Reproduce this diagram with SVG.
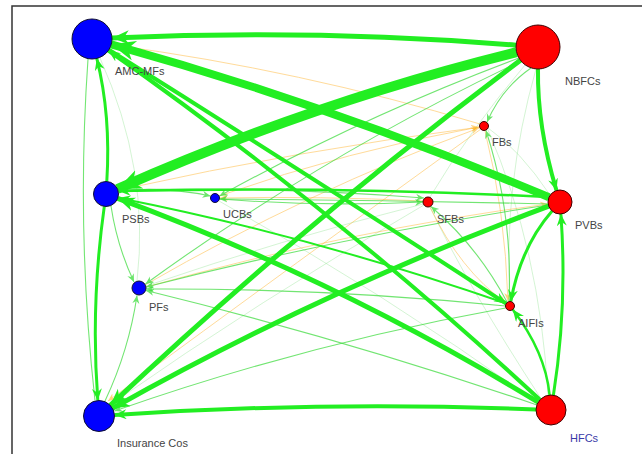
<svg xmlns="http://www.w3.org/2000/svg" width="642" height="454" viewBox="0 0 642 454">
<defs>
<marker id="axl" markerUnits="userSpaceOnUse" markerWidth="26" markerHeight="22" refX="24" refY="10" orient="auto"><path d="M0,0 L24,10 L0,20 L7,10 z" fill="#22ee22"/></marker>
<marker id="al" markerUnits="userSpaceOnUse" markerWidth="19" markerHeight="16" refX="17" refY="7" orient="auto"><path d="M0,0 L17,7 L0,14 L5,7 z" fill="#22ee22"/></marker>
<marker id="am" markerUnits="userSpaceOnUse" markerWidth="14" markerHeight="12" refX="12" refY="5" orient="auto"><path d="M0,0 L12,5 L0,10 L4,5 z" fill="#22ee22"/></marker>
<marker id="as" markerUnits="userSpaceOnUse" markerWidth="10" markerHeight="8" refX="8" refY="3.5" orient="auto"><path d="M0,0 L8,3.5 L0,7 L2.5,3.5 z" fill="#33dd33"/></marker>
<marker id="ao" markerUnits="userSpaceOnUse" markerWidth="10" markerHeight="8" refX="8" refY="3.5" orient="auto"><path d="M0,0 L8,3.5 L0,7 L2.5,3.5 z" fill="#ffaa00"/></marker>
</defs>
<style>
.e{fill:none;stroke:#22ee22}
.t{fill:none;stroke:#3ddc3d;stroke-width:1.1;opacity:.72}
.f{fill:none;stroke:#77dd77;stroke-width:.8;opacity:.4}
.o{fill:none;stroke:#ffb020;stroke-width:.9;opacity:.5}
.b{fill:#0000ff;stroke:#101030;stroke-width:1}
.r{fill:#ff0000;stroke:#400000;stroke-width:1}
.lbl{font-family:"Liberation Sans",Arial,sans-serif;font-size:11px;fill:#444}
</style>
<rect width="642" height="454" fill="#ffffff"/>
<path d="M12,454 L12,6 L642,6" fill="none" stroke="#333" stroke-width="1.5"/>
<g id="connectors">
<g id="faint">
<path class="f" d="M548,395 Q540,250 488,130"/>
<path class="f" d="M536,69 Q503,185 510,301"/>
<path class="f" d="M538,403 Q380,290 219,201"/>
<path class="f" d="M424,205 Q260,300 110,405"/>
<path class="f" d="M423,204 Q280,240 146,286"/>
<path class="f" d="M550,195 Q520,150 488,128"/>
<path class="f" d="M525,65 Q470,130 430,197"/>
<path class="f" d="M540,397 Q470,290 430,207"/>
<path class="f" d="M100,58 Q150,170 137,281"/>
</g>
<g id="orange">
<path class="o" d="M480,124 Q300,70 113,45" marker-end="url(#ao)"/>
<path class="o" d="M480,127 Q300,150 119,190" marker-end="url(#ao)"/>
<path class="o" d="M481,129 Q300,260 108,401" marker-end="url(#ao)"/>
<path class="o" d="M219,196 Q350,150 479,127" marker-end="url(#ao)"/>
<path class="o" d="M145,285 Q310,190 479,128" marker-end="url(#ao)"/>
<path class="o" d="M430,207 Q460,270 506,303" marker-end="url(#ao)"/>
<path class="o" d="M423,201 Q320,196 220,198" marker-end="url(#ao)"/>
<path class="o" d="M146,287 Q350,230 548,204" marker-end="url(#ao)"/>
<path class="o" d="M485,131 Q505,210 508,301" marker-end="url(#ao)"/>
</g>
<g id="thin">
<path class="t" d="M521,61 Q323,155 145.5,284" marker-end="url(#as)"/>
<path class="t" d="M548,205 Q345,236 146,287" marker-end="url(#as)"/>
<path class="t" d="M505.5,306 Q326,288 146,289" marker-end="url(#as)"/>
<path class="t" d="M537,405 Q344,339 146,290.5" marker-end="url(#as)"/>
<path class="t" d="M105,401 Q129,350 137,295.5" marker-end="url(#as)"/>
<path class="t" d="M111,206 Q117,246 134,282" marker-end="url(#as)"/>
<path class="t" d="M118.5,191 Q164,186 210.5,196" marker-end="url(#as)"/>
<path class="t" d="M220,199 Q321,207 423,202" marker-end="url(#as)"/>
<path class="t" d="M119,190 Q272,186 424,198" marker-end="url(#as)"/>
<path class="t" d="M507,302 Q478,247 431,206.5" marker-end="url(#as)"/>
<path class="t" d="M519,58 Q364,116 219.5,196" marker-end="url(#as)"/>
<path class="t" d="M531,68 Q502,88 487,122" marker-end="url(#as)"/>
<path class="t" d="M509,301.5 Q513,214 486,130.5" marker-end="url(#as)"/>
<path class="t" d="M505.5,308 Q306,344 114.5,411" marker-end="url(#as)"/>
<path class="t" d="M88,59 Q76,230 95,400.5"/>
<path class="t" d="M548,204 Q384,200 219.5,199" marker-end="url(#as)"/>
</g>
<g id="strong">
<path class="e" stroke-width="2" d="M505,303 Q307,235 118.5,198" marker-end="url(#am)"/>
<path class="e" stroke-width="2.5" d="M548,197 Q333,186 118.5,191" marker-end="url(#am)"/>
<path class="e" stroke-width="3" d="M106.8,181.5 Q111,115.4 96.8,58.4" marker-end="url(#am)"/>
<path class="e" stroke-width="3" d="M104.3,206.4 Q90.5,304.6 97.8,400.5" marker-end="url(#am)"/>
<path class="e" stroke-width="2.5" d="M549.6,395.1 Q545.4,352.1 512.7,309.6" marker-end="url(#am)"/>
<path class="e" stroke-width="3" d="M552.1,211 Q520.6,247.1 510.8,301.6" marker-end="url(#am)"/>
<path class="e" stroke-width="4" d="M538,69 Q537.1,126.2 556.5,190.5" marker-end="url(#am)"/>
<path class="e" stroke-width="3" d="M553.4,395.2 Q567.5,306.5 560.9,214" marker-end="url(#am)"/>
<path class="e" stroke-width="4" d="M536,409.4 Q324.8,401 114.5,415" marker-end="url(#am)"/>
<path class="e" stroke-width="5" d="M538.2,402.2 Q339,280.4 117.7,198.3" marker-end="url(#al)"/>
<path class="e" stroke-width="4" d="M108.9,49.8 Q309,175 506.2,303.6" marker-end="url(#am)"/>
<path class="e" stroke-width="4" d="M540,399.8 Q334.1,209 108.4,50.5" marker-end="url(#am)"/>
<path class="e" stroke-width="5" d="M548.8,206.2 Q321.1,290.9 112.5,408.4" marker-end="url(#al)"/>
<path class="e" stroke-width="5" d="M520.4,60.2 Q308.2,219.3 110.3,405.4" marker-end="url(#al)"/>
<path class="e" stroke-width="10" d="M516.6,52.2 Q315.6,101.6 117.4,189" marker-end="url(#axl)"/>
<path class="e" stroke-width="8" d="M549,197.3 Q331.3,105.4 111.3,44.3" marker-end="url(#axl)"/>
<path class="e" stroke-width="5" d="M516,45.2 Q315.3,29 112,38.1" marker-end="url(#al)"/>
</g>
</g>
<g id="AMC-MFs"><circle class="b" cx="92" cy="39" r="20"/><text class="lbl" x="115" y="75">AMC-MFs</text></g>
<g id="NBFCs"><circle class="r" cx="538" cy="47" r="22"/><text class="lbl" x="565" y="85">NBFCs</text></g>
<g id="FBs"><circle class="r" cx="484" cy="126" r="4.5"/><text class="lbl" x="492" y="146">FBs</text></g>
<g id="PSBs"><circle class="b" cx="106" cy="194" r="12.5"/><text class="lbl" x="122" y="223">PSBs</text></g>
<g id="UCBs"><circle class="b" cx="215" cy="198" r="4.5"/><text class="lbl" x="223" y="218">UCBs</text></g>
<g id="SFBs"><circle class="r" cx="428" cy="202" r="5"/><text class="lbl" x="437" y="223">SFBs</text></g>
<g id="PVBs"><circle class="r" cx="560" cy="202" r="12"/><text class="lbl" x="575" y="229">PVBs</text></g>
<g id="PFs"><circle class="b" cx="139" cy="288" r="7"/><text class="lbl" x="149" y="311">PFs</text></g>
<g id="AIFIs"><circle class="r" cx="510" cy="306" r="4.5"/><text class="lbl" x="518" y="327">AIFIs</text></g>
<g id="InsuranceCos"><circle class="b" cx="99" cy="416" r="15.5"/><text class="lbl" x="117" y="447">Insurance Cos</text></g>
<g id="HFCs"><circle class="r" cx="551" cy="410" r="15"/><text class="lbl" x="570" y="442" style="fill:#3a3aa8">HFCs</text></g>
</svg>
